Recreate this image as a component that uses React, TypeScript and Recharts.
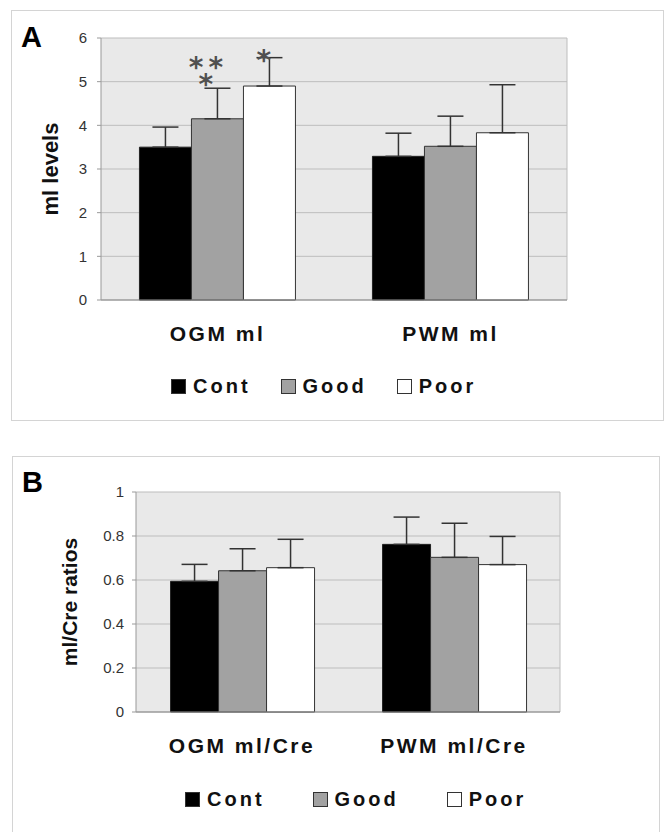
import React from 'react';
import { BarChart, Bar, XAxis, YAxis, CartesianGrid, ErrorBar, LabelList, Legend } from 'recharts';

const FONT = "'Liberation Sans', Arial, Helvetica, sans-serif";

// Panel A
const categoriesA = ['OGM ml', 'PWM ml'];
const contA = [3.5, 3.29];
const goodA = [4.15, 3.52];
const poorA = [4.9, 3.83];
const contErrA = [0.46, 0.53];
const goodErrA = [0.7, 0.69];
const poorErrA = [0.65, 1.1];
const goodStarsA = ['**|*', ''];
const poorStarsA = ['*', ''];
const ticksA = [0, 1, 2, 3, 4, 5, 6];

// Panel B
const categoriesB = ['OGM ml/Cre', 'PWM ml/Cre'];
const contB = [0.594, 0.762];
const goodB = [0.642, 0.703];
const poorB = [0.656, 0.67];
const contErrB = [0.077, 0.124];
const goodErrB = [0.1, 0.155];
const poorErrB = [0.129, 0.128];
const ticksB = [0, 0.2, 0.4, 0.6, 0.8, 1];

const seriesNames = ['Cont', 'Good', 'Poor'];

const dataA = categoriesA.map((name, i) => ({
  name,
  cont: contA[i], good: goodA[i], poor: poorA[i],
  contErr: [0, contErrA[i]], goodErr: [0, goodErrA[i]], poorErr: [0, poorErrA[i]],
  goodStar: goodStarsA[i], poorStar: poorStarsA[i],
}));

const dataB = categoriesB.map((name, i) => ({
  name,
  cont: contB[i], good: goodB[i], poor: poorB[i],
  contErr: [0, contErrB[i]], goodErr: [0, goodErrB[i]], poorErr: [0, poorErrB[i]],
}));

const makeStar = (errs: number[], values: number[], dx: number) => (props: any) => {
  const { x, y, width, height, value, index } = props;
  if (!value) return null;
  const v = values[index];
  const e = errs[index];
  const top = y - (e / v) * height;
  const cx = x + width / 2 + dx;
  const lines = String(value).split('|');
  const firstY = top - (lines.length - 1) * 17 + 12 - (lines.length > 1 ? 6 : 0);
  return (
    <text x={cx} y={firstY} textAnchor="middle"
      fontFamily="'DejaVu Sans', sans-serif" fontWeight="bold" fontSize={28} fill="#505050" letterSpacing={5}>
      {lines.map((l, k) => (
        <tspan key={k} x={cx} dy={k === 0 ? 0 : 17}>{l}</tspan>
      ))}
    </text>
  );
};

const legendContent = (gap: number) => (props: any) => {
  const { payload } = props;
  return (
    <div style={{ display: 'flex', alignItems: 'center', fontFamily: FONT, fontWeight: 'bold', fontSize: 20, letterSpacing: 3, color: '#111', lineHeight: '24px' }}>
      {(payload || []).map((p: any, i: number) => (
        <div key={i} style={{ display: 'flex', alignItems: 'center', marginRight: gap }}>
          <span style={{ display: 'inline-block', width: 15, height: 15, background: p.color, border: '1px solid #333', marginRight: 7, boxSizing: 'border-box' }} />
          <span>{p.value}</span>
        </div>
      ))}
    </div>
  );
};

const xTick = (props: any) => {
  const { x, y, payload } = props;
  return (
    <text x={x} y={y + 41} textAnchor="middle" fontFamily={FONT} fontWeight="bold" fontSize={21} letterSpacing={2.5} fill="#111">
      {payload.value}
    </text>
  );
};

const yLabel = (text: string, dx: number, size: number) => (props: any) => {
  const vb = props.viewBox || {};
  const cx = vb.x + dx;
  const cy = vb.y + vb.height / 2;
  return (
    <text x={cx} y={cy} transform={`rotate(-90 ${cx} ${cy})`} textAnchor="middle" fontFamily={FONT} fontWeight="bold" fontSize={size} fill="#111">
      {text}
    </text>
  );
};

const gridV = (p: any) => [p.offset.left + p.offset.width];

const tickStyle = { fontFamily: FONT, fontSize: 15, fill: '#333' };

export default function App() {
  return (
    <div style={{ position: 'absolute', left: 0, top: 0, width: 669, height: 832, overflow: 'hidden', background: '#fff' }}>
      <div style={{ position: 'absolute', left: 11, top: 10, width: 653, height: 411, border: '1px solid #d4d4d4', boxSizing: 'border-box' }} />
      <div style={{ position: 'absolute', left: 12, top: 456, width: 648, height: 420, border: '1px solid #d4d4d4', boxSizing: 'border-box' }} />
      <div style={{ position: 'absolute', left: 21, top: 20, fontFamily: FONT, fontWeight: 'bold', fontSize: 29, lineHeight: '34px' }}>A</div>
      <div style={{ position: 'absolute', left: 22, top: 465, fontFamily: FONT, fontWeight: 'bold', fontSize: 29, lineHeight: '34px' }}>B</div>

      <div style={{ position: 'absolute', left: 0, top: 0 }}>
        <BarChart width={669} height={430} data={dataA} margin={{ top: 38, right: 102, bottom: 90, left: 41 }}
          barCategoryGap="16.5%" barGap={0}>
          <CartesianGrid stroke="#bdbdbd" fill="#e9e9e9" vertical={true} verticalCoordinatesGenerator={gridV} />
          <XAxis dataKey="name" height={40} tickLine={false} tickSize={0} tickMargin={0} axisLine={{ stroke: '#888' }} tick={xTick} interval={0} />
          <YAxis width={60} domain={[0, 6]} ticks={ticksA} tickSize={4} tickMargin={10} tick={tickStyle}
            axisLine={{ stroke: '#999' }} tickLine={{ stroke: '#999' }} label={yLabel('ml levels', 17, 22)} />
          <Legend verticalAlign="middle" align="center" wrapperStyle={{ top: 374, left: 171, width: 420 }} content={legendContent(30)} />
          <Bar dataKey="cont" name={seriesNames[0]} fill="#000000" stroke="#222" isAnimationActive={false}>
            <ErrorBar dataKey="contErr" width={13} stroke="#333" strokeWidth={1.5} direction="y" />
          </Bar>
          <Bar dataKey="good" name={seriesNames[1]} fill="#a2a2a2" stroke="#333" isAnimationActive={false}>
            <ErrorBar dataKey="goodErr" width={13} stroke="#333" strokeWidth={1.5} direction="y" />
            <LabelList dataKey="goodStar" content={makeStar(goodErrA, goodA, -9)} />
          </Bar>
          <Bar dataKey="poor" name={seriesNames[2]} fill="#ffffff" stroke="#333" isAnimationActive={false}>
            <ErrorBar dataKey="poorErr" width={13} stroke="#333" strokeWidth={1.5} direction="y" />
            <LabelList dataKey="poorStar" content={makeStar(poorErrA, poorA, -3)} />
          </Bar>
        </BarChart>
      </div>

      <div style={{ position: 'absolute', left: 0, top: 440 }}>
        <BarChart width={669} height={392} data={dataB} margin={{ top: 52, right: 109, bottom: 80, left: 76 }}
          barCategoryGap="16.3%" barGap={0}>
          <CartesianGrid stroke="#bdbdbd" fill="#e9e9e9" vertical={true} verticalCoordinatesGenerator={gridV} />
          <XAxis dataKey="name" height={40} tickLine={false} tickSize={0} tickMargin={0} axisLine={{ stroke: '#888' }} tick={xTick} interval={0} />
          <YAxis width={60} domain={[0, 1]} ticks={ticksB} tickSize={4} tickMargin={8} tick={tickStyle}
            axisLine={{ stroke: '#999' }} tickLine={{ stroke: '#999' }} label={yLabel('ml/Cre ratios', 1, 21)} />
          <Legend verticalAlign="middle" align="center" wrapperStyle={{ top: 347, left: 185, width: 420 }} content={legendContent(48)} />
          <Bar dataKey="cont" name={seriesNames[0]} fill="#000000" stroke="#222" isAnimationActive={false}>
            <ErrorBar dataKey="contErr" width={13} stroke="#333" strokeWidth={1.5} direction="y" />
          </Bar>
          <Bar dataKey="good" name={seriesNames[1]} fill="#a2a2a2" stroke="#333" isAnimationActive={false}>
            <ErrorBar dataKey="goodErr" width={13} stroke="#333" strokeWidth={1.5} direction="y" />
          </Bar>
          <Bar dataKey="poor" name={seriesNames[2]} fill="#ffffff" stroke="#333" isAnimationActive={false}>
            <ErrorBar dataKey="poorErr" width={13} stroke="#333" strokeWidth={1.5} direction="y" />
          </Bar>
        </BarChart>
      </div>
    </div>
  );
}
